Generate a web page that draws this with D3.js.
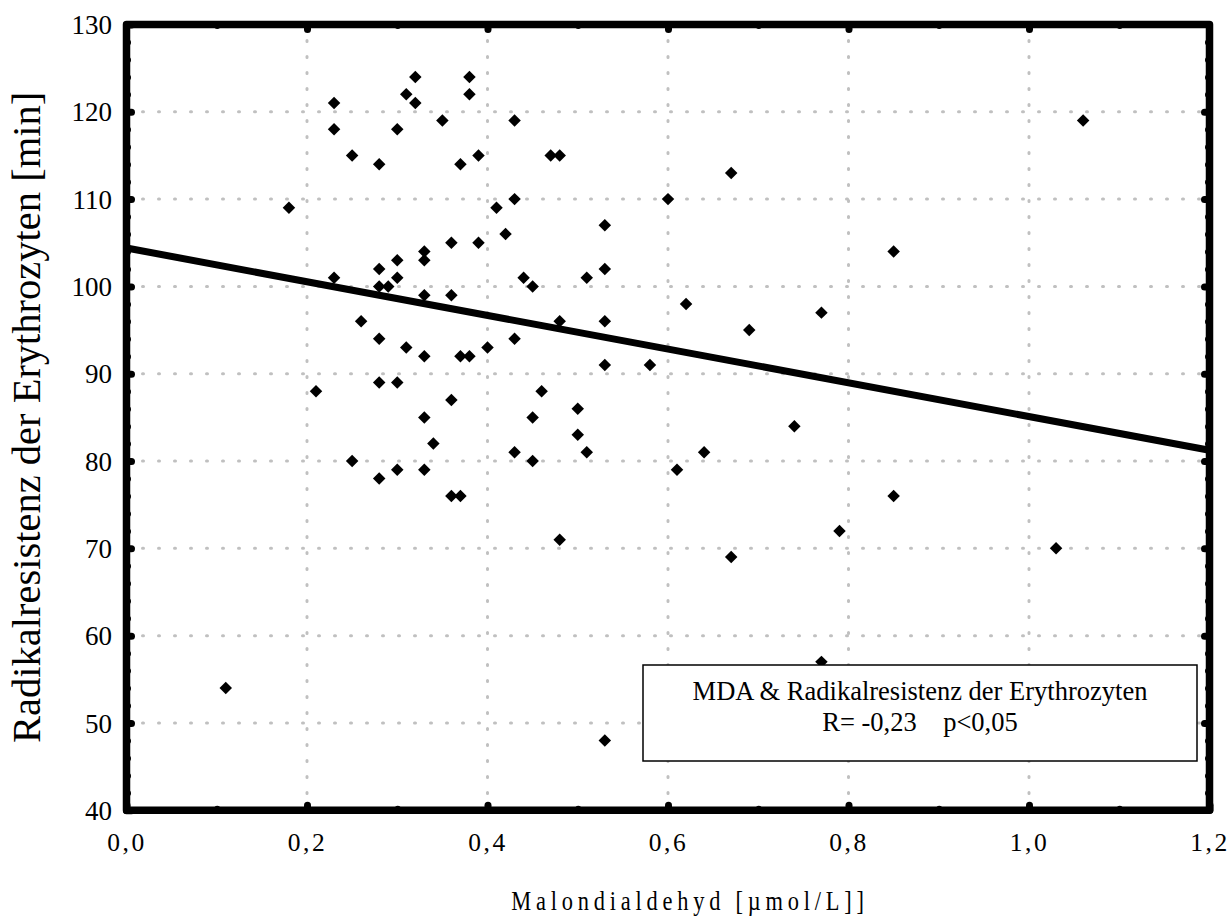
<!DOCTYPE html>
<html><head><meta charset="utf-8">
<script src="https://cdn.jsdelivr.net/npm/d3@7"></script>
<style>
body{margin:0;background:#fff}
svg{display:block}
svg text{font-family:"Liberation Serif","Times New Roman",serif;fill:#000}
</style>
</head><body>
<svg id="c" width="1229" height="918"></svg>
<script>
// ---- data ----
const mda = [0.32,0.38,0.31,0.38,0.23,0.32,0.35,0.43,1.06,0.23,0.30,0.25,0.39,0.47,0.48,0.28,0.37,0.67,0.43,0.60,
  0.18,0.41,0.53,0.42,0.36,0.39,0.33,0.85,0.30,0.33,0.28,0.53,0.23,0.30,0.44,0.51,0.28,0.29,0.45,0.33,
  0.36,0.62,0.77,0.26,0.48,0.53,0.69,0.28,0.43,0.31,0.40,0.33,0.37,0.38,0.53,0.58,0.28,0.30,0.21,0.46,
  0.36,0.50,0.33,0.45,0.74,0.50,0.34,0.43,0.51,0.64,0.25,0.45,0.30,0.33,0.61,0.28,0.36,0.37,0.85,0.79,
  0.48,1.03,0.67,0.77,0.11,0.53];
const radikalresistenz = [124,124,122,122,121,121,119,119,119,118,118,115,115,115,115,114,114,113,110,110,
  109,109,107,106,105,105,104,104,103,103,102,102,101,101,101,101,100,100,100,99,
  99,98,97,96,96,96,95,94,94,93,93,92,92,92,91,91,89,89,88,88,
  87,86,85,85,84,83,82,81,81,81,80,80,79,79,79,78,76,76,76,72,
  71,70,69,57,54,48];
const xTickValues = [0,0.2,0.4,0.6,0.8,1.0,1.2];
const xTickLabels = ["0,0","0,2","0,4","0,6","0,8","1,0","1,2"];
const yTickValues = [40,50,60,70,80,90,100,110,120,130];
const yTickLabels = ["40","50","60","70","80","90","100","110","120","130"];
const xMinorTicks = [0.1,0.3,0.5,0.7,0.9,1.1];
const yMinorTicks = [42,44,46,48,52,54,56,58,62,64,66,68,72,74,76,78,82,84,86,88,92,94,96,98,102,104,106,108,112,114,116,118,122,124,126,128];
const regressionIntercept = 104.4;
const regressionSlope = -19.3;
const legendLines = ["MDA & Radikalresistenz der Erythrozyten", "R= -0,23    p<0,05"];
const xTitle = "Malondialdehyd [µmol/L]]";
const yTitle = "Radikalresistenz der Erythrozyten [min]";

// ---- layout ----
const SERIF = "'Liberation Serif', 'Times New Roman', serif";
const L = 126.5, R = 1209.5, T = 24.5, B = 810.3;
const svg = d3.select("#c");
const x = d3.scaleLinear().domain([0, 1.2]).range([L, R]);
const y = d3.scaleLinear().domain([40, 130]).range([B, T]);

// grid
const grid = svg.append("g").attr("stroke", "#c0c0c0").attr("stroke-width", 3)
  .attr("stroke-dasharray", "1 15").attr("stroke-linecap", "round").attr("fill", "none");
grid.selectAll(".h").data(yTickValues.slice(1, -1)).join("line")
  .attr("x1", L).attr("x2", R).attr("y1", d => y(d)).attr("y2", d => y(d));
grid.selectAll(".v").data(xTickValues.slice(1, -1)).join("line")
  .attr("x1", d => x(d)).attr("x2", d => x(d)).attr("y1", T).attr("y2", B);

// regression line
const xd = x.domain();
svg.append("line")
  .attr("x1", x(xd[0])).attr("y1", y(regressionIntercept + regressionSlope * xd[0]))
  .attr("x2", x(xd[1])).attr("y2", y(regressionIntercept + regressionSlope * xd[1]))
  .attr("stroke", "#000").attr("stroke-width", 7);

// points
const sym = d3.symbol().type(d3.symbolSquare).size(78);
svg.append("g").selectAll("path").data(mda.map((v, i) => [v, radikalresistenz[i]])).join("path")
  .attr("d", sym)
  .attr("transform", d => `translate(${x(d[0])},${y(d[1])}) rotate(45)`)
  .attr("fill", "#000");

// legend box
const lg = svg.append("g");
lg.append("rect").attr("x", 643).attr("y", 665).attr("width", 554).attr("height", 96)
  .attr("fill", "#fff").attr("stroke", "#000").attr("stroke-width", 1.5);
lg.selectAll("text").data(legendLines).join("text")
  .attr("x", 920).attr("y", (d, i) => 700 + i * 31)
  .attr("text-anchor", "middle").style("font-family", SERIF).style("font-size", "26.5px")
  .style("white-space", "pre")
  .text(d => d);

// frame
svg.append("rect").attr("x", L).attr("y", T).attr("width", R - L).attr("height", B - T)
  .attr("fill", "none").attr("stroke", "#000").attr("stroke-width", 7.5).attr("stroke-linejoin", "round");

function styleTicks(g, w) {
  g.select(".domain").remove();
  g.selectAll(".tick line").attr("stroke", "#000").attr("stroke-width", w).attr("stroke-linecap", "round");
}
// minor ticks (inward bumps)
svg.append("g").attr("transform", `translate(0,${B})`)
  .call(d3.axisBottom(x).tickValues(xMinorTicks).tickSize(-1.5).tickFormat("")).call(g => styleTicks(g, 6));
svg.append("g").attr("transform", `translate(0,${T})`)
  .call(d3.axisTop(x).tickValues(xMinorTicks).tickSize(-1.5).tickFormat("")).call(g => styleTicks(g, 6));
svg.append("g").attr("transform", `translate(${L},0)`)
  .call(d3.axisLeft(y).tickValues(yMinorTicks).tickSize(-1.5).tickFormat("")).call(g => styleTicks(g, 6));
svg.append("g").attr("transform", `translate(${R},0)`)
  .call(d3.axisRight(y).tickValues(yMinorTicks).tickSize(-1.5).tickFormat("")).call(g => styleTicks(g, 6));

// major ticks with labels
const xa = svg.append("g").attr("transform", `translate(0,${B})`)
  .call(d3.axisBottom(x).tickValues(xTickValues).tickSize(-5).tickPadding(0)
    .tickFormat((d, i) => xTickLabels[i]));
styleTicks(xa, 7);
xa.attr("font-family", SERIF).attr("font-size", 25);
xa.selectAll(".tick text").attr("y", 41).attr("dy", null)
  .style("font-family", SERIF).style("font-size", "25.5px").style("letter-spacing", "2.5px");

const ya = svg.append("g").attr("transform", `translate(${L},0)`)
  .call(d3.axisLeft(y).tickValues(yTickValues).tickSize(-5).tickPadding(14.5)
    .tickFormat((d, i) => yTickLabels[i]));
styleTicks(ya, 7);
ya.attr("font-family", SERIF).attr("font-size", 27);
ya.selectAll(".tick text").attr("dy", "0.34em")
  .style("font-family", SERIF).style("font-size", "27px");

svg.append("g").attr("transform", `translate(0,${T})`)
  .call(d3.axisTop(x).tickValues(xTickValues.slice(1, -1)).tickSize(-5).tickFormat("")).call(g => styleTicks(g, 7));
svg.append("g").attr("transform", `translate(${R},0)`)
  .call(d3.axisRight(y).tickValues(yTickValues.slice(1, -1)).tickSize(-5).tickFormat("")).call(g => styleTicks(g, 7));

// axis titles
svg.append("text").attr("transform", "translate(690,910) scale(0.8,1)")
  .attr("text-anchor", "middle").style("font-family", SERIF).style("font-size", "28px").style("letter-spacing", "6px")
  .text(xTitle);
svg.append("text").attr("transform", `translate(40,${(T + B) / 2}) rotate(-90)`)
  .attr("text-anchor", "middle").style("font-family", SERIF).style("font-size", "40.5px")
  .text(yTitle);
</script>
</body></html>
